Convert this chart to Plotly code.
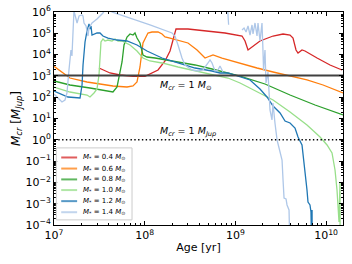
import numpy as np
import plotly.graph_objects as go

# log10(age [yr]) and log10(M_cr [M_Jup])
age_04 = [7.496, 7.617, 7.728, 7.871, 8.003, 8.147, 8.224, 8.279, 8.312, 8.345, 8.477, 8.665, 8.885, 9.073,
          9.106, 9.139, 9.194, 9.271, 9.415, 9.525, 9.602, 9.635, 9.668, 9.69, 9.734, 9.767, 9.90, 10.043, 10.175]
mcr_04 = [3.371, 3.136, 3.042, 2.98, 2.98, 3.277, 3.70, 4.169, 4.685, 5.202, 5.202, 5.108, 5.014, 4.873,
          4.638, 4.216, 4.404, 4.638, 4.873, 4.967, 4.92, 4.779, 4.216, 4.075, 4.216, 4.169, 3.84, 3.512, 3.277]

age_06 = [7.0, 7.176, 7.364, 7.507, 7.65, 7.805, 7.871, 7.915, 7.948, 7.981, 8.036, 8.08, 8.147, 8.191, 8.224,
          8.279, 8.367, 8.477, 8.577, 8.665, 8.72, 8.753, 8.852, 8.962, 9.106, 9.238, 9.415, 9.602, 9.789,
          9.966, 10.186]
mcr_06 = [3.45, 2.901, 2.714, 2.62, 2.526, 2.479, 2.526, 2.714, 3.418, 4.545, 5.014, 5.061, 5.061, 4.967, 4.826,
          4.779, 4.685, 4.545, 4.216, 3.84, 3.934, 3.981, 3.84, 3.70, 3.512, 3.371, 3.183, 2.995, 2.808,
          2.573, 2.197]

age_08 = [7.0, 7.176, 7.397, 7.584, 7.65, 7.695, 7.717, 7.75, 7.772, 7.805, 7.838, 7.871, 7.893, 7.915, 7.948,
          7.981, 8.025, 8.114, 8.301, 8.555, 8.742, 8.918, 9.051, 9.326, 9.602, 9.878, 10.186]
mcr_08 = [2.761, 2.573, 2.432, 2.291, 2.244, 2.479, 2.901, 3.653, 4.451, 4.826, 4.967, 4.92, 5.014, 4.779, 4.545,
          3.981, 3.887, 3.84, 3.70, 3.512, 3.324, 3.136, 2.995, 2.62, 2.103, 1.634, 1.164]

age_10 = [7.0, 7.176, 7.364, 7.397, 7.441, 7.474, 7.496, 7.507, 7.518, 7.54, 7.562, 7.595, 7.639, 7.673, 7.706,
          7.75, 7.838, 7.915, 7.981, 8.058, 8.191, 8.367, 8.555, 8.742, 8.918, 9.051, 9.238, 9.415, 9.602,
          9.789, 9.933, 10.01, 10.065, 10.098, 10.12, 10.131, 10.142, 10.153, 10.154]
mcr_10 = [2.479, 2.244, 2.103, 2.009, 2.197, 2.385, 3.042, 3.981, 4.592, 4.732, 4.638, 4.685, 4.638, 4.732, 4.638,
          4.638, 4.451, 4.169, 3.84, 3.70, 3.606, 3.418, 3.23, 3.042, 2.901, 2.667, 2.244, 1.869, 1.305,
          0.695, 0.131, -0.244, -0.62, -1.418, -2.357, -3.061, -3.859, -2.03, -5.0]

age_12 = [7.0, 7.154, 7.287, 7.309, 7.32, 7.342, 7.364, 7.375, 7.386, 7.397, 7.408, 7.419, 7.441, 7.474, 7.507,
          7.54, 7.595, 7.695, 7.805, 7.915, 8.025, 8.191, 8.367, 8.555, 8.742, 8.83, 8.918, 9.018, 9.161,
          9.271, 9.348, 9.415, 9.492, 9.547, 9.602, 9.657, 9.69, 9.734, 9.745, 9.767, 9.789, 9.8, 9.822,
          9.833, 9.84, 9.845, 9.846]
mcr_12 = [2.291, 2.009, 1.962, 2.573, 3.512, 4.592, 5.108, 5.343, 5.437, 5.202, 5.343, 4.92, 4.967, 5.014, 5.014,
          4.873, 4.779, 4.685, 4.638, 4.451, 4.169, 3.84, 3.606, 3.371, 3.23, 3.136, 3.136, 2.995, 2.808,
          2.385, 2.009, 1.587, 1.258, 0.883, 0.789, 0.554, 0.131, -0.244, -0.62, -1.559, -2.357, -2.92, -3.061,
          -3.39, -5.0, -3.3, -5.0]

age_14 = [7.0, 7.088, 7.121, 7.143, 7.165, 7.176, 7.187, 7.198, 7.209, 7.22, 7.243, 7.254, 7.276, 7.309, 7.32,
          7.331, 7.353, 7.375, 7.386, 7.419, 7.474, 7.54, 7.573, 7.617, 7.639, 7.838, 8.058, 8.301, 8.334,
          8.367, 8.411, 8.444, 8.521, 8.588, 8.643, 8.698, 8.72, 8.742, 8.775, 8.808, 8.83, 8.863, None,
          8.915, 8.925, None,
          9.073, 9.095, 9.117, 9.139, 9.161, 9.183, 9.194, 9.216, 9.238, 9.249, 9.271, 9.293, 9.304, 9.31,
          9.326, 9.337, 9.359, 9.381, 9.403, 9.414, 9.436, 9.459, 9.481, 9.514, 9.525, 9.536, 9.558, 9.569,
          9.591, 9.6]
mcr_14 = [2.15, 1.775, 1.869, 2.197, 3.277, 3.653, 4.216, 3.934, 5.108, 6.05, 5.671, 5.484, 5.812, 5.859, 5.812,
          5.484, 5.343, 4.873, 5.249, 5.484, 5.671, 5.953, 6.2, 6.2, 6.0, 5.718, 5.39, 5.014, 4.873,
          4.451, 3.84, 3.512, 3.277, 3.23, 3.277, 3.606, 3.746, 3.606, 3.23, 3.277, 3.465, 3.183, None,
          6.1, 5.4, None,
          5.155, 5.249, 5.061, 5.343, 4.92, 5.39, 4.967, 5.484, 4.873, 5.484, 4.638, 5.484, 4.169, 3.277,
          4.216, 2.667, 3.183, 1.4, 0.93, 1.728, 0.789, 0.0, -0.385, -0.948, -1.887, -2.732, -2.78, -3.06,
          -3.296, -5.0]

labels = ["0.4", "0.6", "0.8", "1.0", "1.2", "1.4"]
colors = ["#d62728", "#ff7f0e", "#2ca02c", "#98df8a", "#1f77b4", "#aec7e8"]
ages = [age_04, age_06, age_08, age_10, age_12, age_14]
mcrs = [mcr_04, mcr_06, mcr_08, mcr_10, mcr_12, mcr_14]

ref_age = [1e6, 1e11]
ref_sun = [1047.6, 1047.6]
ref_jup = [1.0, 1.0]

x_exps = [7, 8, 9, 10]
y_exps = [-4, -3, -2, -1, 0, 1, 2, 3, 4, 5, 6]


def lin(v):
    return [None if a is None else 10 ** a for a in v]


def power_label(e):
    s = str(e).replace("-", "\u2212")
    return f"10<sup>{s}</sup>"


fig = go.Figure()
for lab, c, a, m in zip(labels, colors, ages, mcrs):
    fig.add_trace(go.Scatter(x=lin(a), y=lin(m), mode="lines", name=lab,
                             line=dict(color=c, width=1.3), showlegend=False,
                             connectgaps=False))

fig.add_trace(go.Scatter(x=ref_age, y=ref_sun, mode="lines", showlegend=False,
                         line=dict(color="#404040", width=2)))
fig.add_trace(go.Scatter(x=ref_age, y=ref_jup, mode="lines", showlegend=False,
                         line=dict(color="black", width=1.4, dash="1.4px,2.4px")))

font = "DejaVu Sans"
axis_common = dict(type="log", showgrid=False, zeroline=False, showline=True, linecolor="black",
                   linewidth=1, mirror="allticks", ticks="inside", ticklen=4, tickcolor="black",
                   automargin=False,
                   tickfont=dict(family=font, size=11, color="black"),
                   minor=dict(ticks="inside", ticklen=2, dtick="D1", tickcolor="black", showgrid=False))

fig.update_xaxes(**axis_common, range=[7, 10.186],
                 tickmode="array", tickvals=lin(x_exps), ticktext=[power_label(e) for e in x_exps],
                 title=dict(text="Age [yr]", font=dict(family=font, size=11, color="black"), standoff=2))
fig.update_yaxes(**axis_common, range=[-4, 6],
                 tickmode="array", tickvals=lin(y_exps), ticktext=[power_label(e) for e in y_exps],
                 title=dict(text="<i>M</i><sub><i>cr</i></sub> [<i>M</i><sub><i>Jup</i></sub>]",
                            font=dict(family=font, size=12, color="black"), standoff=2))

annotations = [
    dict(text="<i>M</i><sub><i>cr</i></sub> = 1 <i>M</i><sub>⊙</sub>", x=0.36, y=0.657),
    dict(text="<i>M</i><sub><i>cr</i></sub> = 1 <i>M</i><sub><i>Jup</i></sub>", x=0.36, y=0.437),
]
ann_list = []
for a in annotations:
    ann_list.append(dict(text=a["text"], x=a["x"], y=a["y"], xref="paper", yref="paper",
                         xanchor="left", yanchor="middle", showarrow=False,
                         font=dict(family=font, size=9.5, color="black")))

# compact legend
shapes = [dict(type="rect", xref="paper", yref="paper", x0=0.008, x1=0.27, y0=0.024, y1=0.362,
               line=dict(color="#cccccc", width=1), fillcolor="rgba(255,255,255,0.85)", layer="above")]
row_y = [0.317, 0.265, 0.214, 0.164, 0.112, 0.060]
for lab, c, yy in zip(labels, colors, row_y):
    shapes.append(dict(type="line", xref="paper", yref="paper", x0=0.025, x1=0.08, y0=yy, y1=yy,
                       line=dict(color=c, width=2), opacity=0.75, layer="above"))
    ann_list.append(dict(text=f"<i>M</i><sub>*</sub> = {lab} <i>M</i><sub>⊙</sub>", x=0.093, y=yy,
                         xref="paper", yref="paper", xanchor="left", yanchor="middle", showarrow=False,
                         font=dict(family=font, size=7, color="black")))

fig.update_layout(width=352, height=264, margin=dict(l=54, r=9, t=12, b=39),
                  plot_bgcolor="white", paper_bgcolor="white",
                  annotations=ann_list, shapes=shapes, showlegend=False)

fig.write_html("out.html", config={"displayModeBar": False},
               post_script="document.body.style.margin='0px';")
